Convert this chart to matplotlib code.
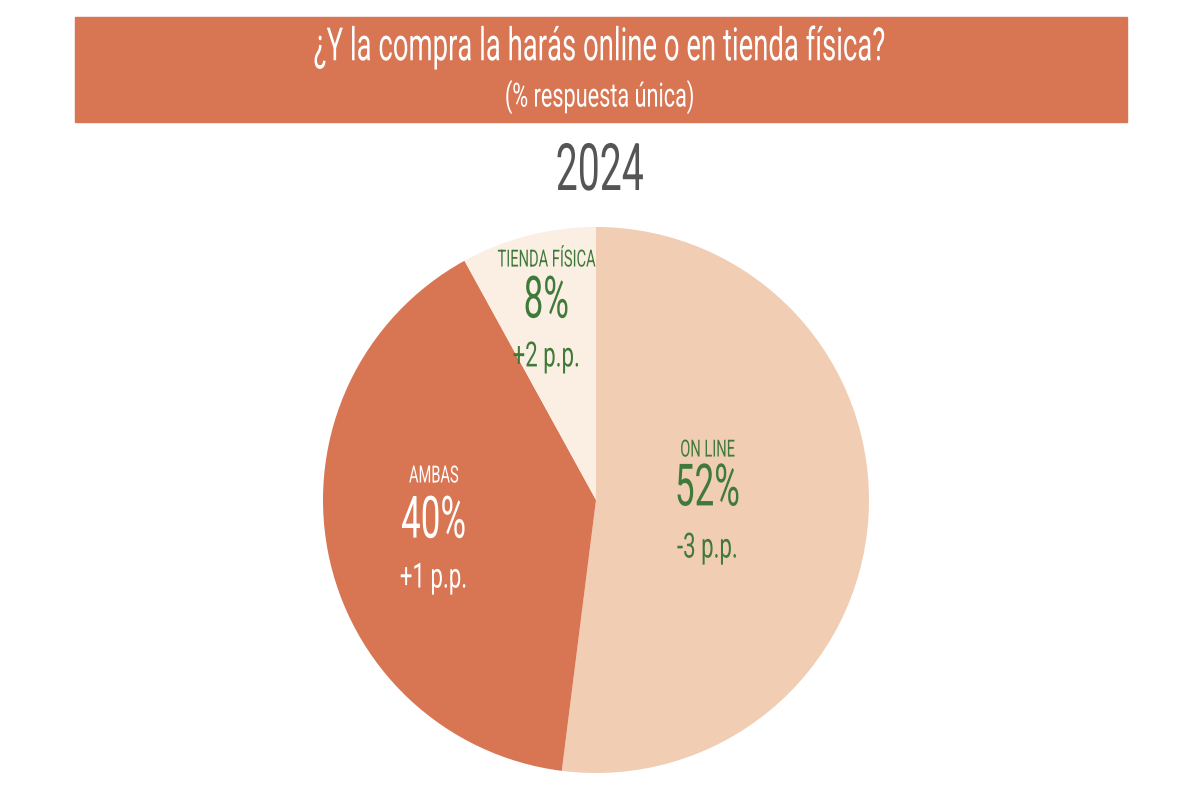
import matplotlib.pyplot as plt
from matplotlib.patches import Rectangle
from matplotlib.patheffects import AbstractPathEffect
from matplotlib.transforms import Affine2D

# Datos
categorias = ["ON LINE", "AMBAS", "TIENDA FÍSICA"]
valores = [52, 40, 8]
variaciones = ["-3 p.p.", "+1 p.p.", "+2 p.p."]
colores = ["#F0CDB3", "#D87552", "#FBEEE2"]
color_texto = ["#3F7A3A", "#FFFFFF", "#3F7A3A"]

titulo = "¿Y la compra la harás online o en tienda física?"
subtitulo = "(% respuesta única)"
anio = "2024"


class Estrechar(AbstractPathEffect):
    """Comprime el texto en horizontal alrededor de su centro (fuente condensada)."""

    def __init__(self, sx=0.65):
        super().__init__()
        self.sx = sx

    def draw_path(self, renderer, gc, tpath, affine, rgbFace=None):
        v = tpath.vertices
        cx = (v[:, 0].min() + v[:, 0].max()) / 2 if len(v) else 0
        t = Affine2D().translate(-cx, 0).scale(self.sx, 1).translate(cx, 0) + affine
        renderer.draw_path(gc, tpath, t, rgbFace)


plt.rcParams["font.family"] = ["Roboto", "DejaVu Sans"]

fig = plt.figure(figsize=(12, 8), dpi=100)
fig.patch.set_facecolor("white")

# Banda del título
fig.patches.append(Rectangle((75 / 1200, 1 - 122 / 800), 1052 / 1200, 105 / 800,
                             transform=fig.transFigure, color="#D87552", zorder=0))
fig.text(0.5, 1 - 47 / 800, titulo, ha="center", va="center", color="white",
         fontsize=33, path_effects=[Estrechar(0.6)])
fig.text(0.5, 1 - 97 / 800, subtitulo, ha="center", va="center", color="white",
         fontsize=24, path_effects=[Estrechar(0.65)])
fig.text(0.5, 1 - 172 / 800, anio, ha="center", va="center", color="#555555",
         fontsize=47, path_effects=[Estrechar(0.6)])

ax = fig.add_axes([323 / 1200, 27 / 800, 546 / 1200, 546 / 800])
ax.pie(valores, colors=colores, startangle=90, counterclock=False,
       wedgeprops={"linewidth": 0})
ax.set_xlim(-1, 1)
ax.set_ylim(-1, 1)
ax.set_aspect("equal")
ax.axis("off")

# Posiciones de las etiquetas (x, y del nombre, del % y de la variación)
pos_etiquetas = [(0.41, 0.183, 0.037, -0.176),
                 (-0.593, 0.088, -0.081, -0.286),
                 (-0.18, 0.879, 0.725, 0.524)]

for cat, val, var, col, (x, y1, y2, y3) in zip(categorias, valores, variaciones,
                                                color_texto, pos_etiquetas):
    ax.text(x, y1, cat, ha="center", va="center", color=col, fontsize=17,
            path_effects=[Estrechar(0.62)])
    ax.text(x, y2, f"{val}%", ha="center", va="center", color=col, fontsize=42,
            path_effects=[Estrechar(0.6)])
    ax.text(x, y3, var, ha="center", va="center", color=col, fontsize=25,
            path_effects=[Estrechar(0.64)])

fig.savefig("out.png", dpi=100)
